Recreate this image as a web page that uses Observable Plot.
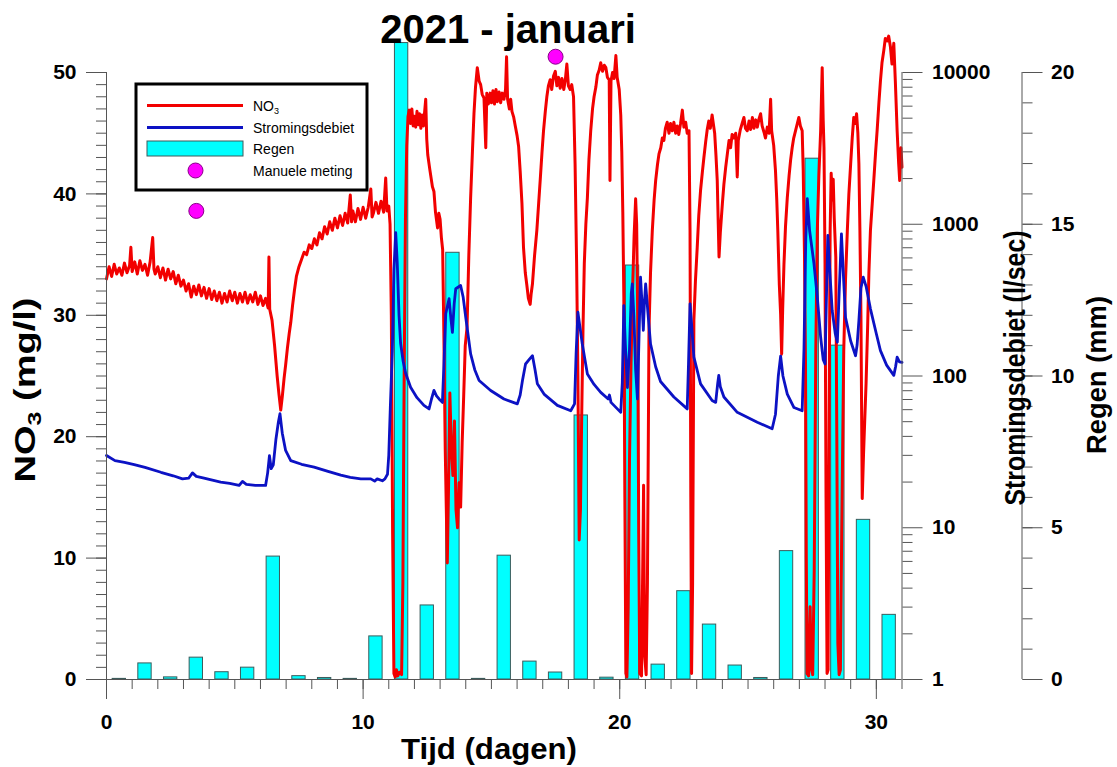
<!DOCTYPE html>
<html>
<head>
<meta charset="utf-8">
<script src="https://cdn.jsdelivr.net/npm/d3@7"></script>
<script src="https://cdn.jsdelivr.net/npm/@observablehq/plot@0.6"></script>
<style>
  html, body { margin: 0; padding: 0; background: #fff; overflow: hidden; }
  #chart svg { display: block; }
</style>
</head>
<body>
<div id="chart"></div>
<script>
// ---- Texts ----
const chartTitle = "2021 - januari";
const xTitle = "Tijd (dagen)";
const flowTitle = "Stromingsdebiet (l/sec)";
const rainTitle = "Regen (mm)";
const legendLabels = ["NO3", "Stromingsdebiet", "Regen", "Manuele meting"];

// ---- Tick values ----
const no3Ticks = [0, 10, 20, 30, 40, 50];
const dayTicks = [0, 10, 20, 30];
const flowTickValues = [1, 10, 100, 1000, 10000];
const flowTickLabels = ["1", "10", "100", "1000", "10000"];
const rainTickValues = [0, 5, 10, 15, 20];
const rainTickLabels = ["0", "5", "10", "15", "20"];

// ---- Daily rainfall (mm), bar centred on each day ----
const rainDay = [0.5, 1.5, 2.5, 3.5, 4.5, 5.5, 6.5, 7.5, 8.5, 9.5, 10.5, 11.5, 12.5, 13.5, 14.5, 15.5,
  16.5, 17.5, 18.5, 19.5, 20.5, 21.5, 22.5, 23.5, 24.5, 25.5, 26.5, 27.5, 28.5, 29.5, 30.5];
const rainMm = [0.02, 0.53, 0.07, 0.72, 0.24, 0.39, 4.05, 0.11, 0.05, 0.02, 1.42, 20.97, 2.44, 14.06, 0.02, 4.08,
  0.59, 0.23, 8.70, 0.06, 13.64, 0.49, 2.91, 1.81, 0.46, 0.05, 4.23, 17.16, 11.0, 5.26, 2.13];

// ---- Manual NO3 measurements [day, mg/l] ----
const manualSamples = [[3.5, 38.6], [17.5, 51.3]];

// ---- NO3 sensor record [day, mg/l] ----
const no3Series = [
  [0.0,33.0],[0.1,34.0],[0.2,33.2],[0.3,34.2],[0.4,33.4],[0.5,33.9],[0.6,33.3],[0.7,34.3],[0.8,33.5],[0.9,34.1],
  [0.95,35.6],[1.0,33.6],[1.1,34.4],[1.2,33.4],[1.3,34.5],[1.4,33.7],[1.5,34.2],[1.6,33.3],[1.7,34.4],[1.8,36.4],
  [1.85,33.8],[1.9,33.4],[2.0,34.0],[2.1,33.1],[2.2,33.9],[2.3,32.9],[2.4,33.8],[2.5,33.0],[2.6,33.6],[2.7,32.6],
  [2.8,33.3],[2.9,32.4],[3.0,32.9],[3.1,32.0],[3.2,32.6],[3.3,31.5],[3.4,32.4],[3.5,31.7],[3.6,32.5],[3.7,31.6],
  [3.8,32.3],[3.9,31.4],[4.0,32.2],[4.1,31.3],[4.2,32.0],[4.3,31.2],[4.4,31.9],[4.5,31.0],[4.6,31.8],[4.7,31.1],
  [4.8,32.0],[4.9,31.2],[5.0,31.9],[5.1,31.0],[5.2,31.8],[5.3,31.1],[5.4,31.9],[5.5,31.0],[5.6,31.7],[5.7,31.1],
  [5.8,31.9],[5.9,30.9],[6.0,31.6],[6.1,30.8],[6.2,31.4],[6.3,30.6],[6.33,34.8],[6.36,30.5],[6.45,29.6],[6.55,27.5],
  [6.65,25.0],[6.72,23.5],[6.79,22.2],[6.85,23.3],[6.92,24.8],[6.98,25.9],[7.05,27.3],[7.12,28.5],[7.18,29.4],[7.25,30.8],
  [7.32,32.0],[7.4,33.2],[7.5,34.0],[7.6,34.6],[7.7,35.2],[7.8,35.0],[7.9,35.8],[8.0,35.5],[8.1,36.3],[8.2,35.8],
  [8.3,36.8],[8.4,36.3],[8.5,37.3],[8.6,36.7],[8.7,37.7],[8.8,37.0],[8.9,38.0],[9.0,37.2],[9.1,38.2],[9.2,37.4],
  [9.3,38.4],[9.4,37.6],[9.5,39.9],[9.55,37.7],[9.6,38.6],[9.7,37.7],[9.8,38.8],[9.9,37.9],[10.0,38.9],[10.1,38.0],
  [10.2,38.9],[10.3,40.4],[10.35,38.1],[10.4,38.4],[10.5,39.3],[10.6,38.4],[10.7,39.4],[10.8,38.5],[10.88,41.3],[10.93,38.6],
  [11.0,39.0],[11.05,37.5],[11.1,30.0],[11.15,12.0],[11.2,0.5],[11.25,0.2],[11.3,0.8],[11.35,0.3],[11.42,0.6],[11.5,0.4],
  [11.55,8.0],[11.6,25.0],[11.65,38.0],[11.7,44.0],[11.75,46.4],[11.8,46.9],[11.85,45.8],[11.9,47.0],[11.95,45.6],[12.0,46.4],
  [12.05,45.5],[12.1,46.8],[12.15,45.7],[12.2,46.6],[12.25,45.4],[12.3,46.5],[12.35,45.6],[12.44,47.8],[12.48,44.5],[12.52,43.2],
  [12.6,42.0],[12.7,40.6],[12.76,40.2],[12.82,38.5],[12.9,37.2],[12.95,38.4],[13.0,37.9],[13.05,36.4],[13.1,35.4],[13.15,28.0],
  [13.2,19.0],[13.28,9.6],[13.33,16.0],[13.38,23.6],[13.44,19.0],[13.5,16.8],[13.56,21.3],[13.62,14.0],[13.68,12.5],[13.74,16.2],
  [13.8,14.2],[13.86,19.5],[13.92,23.4],[13.98,27.5],[14.05,29.0],[14.12,35.0],[14.19,39.7],[14.26,43.5],[14.32,46.6],[14.38,48.8],
  [14.45,50.4],[14.52,49.3],[14.58,49.0],[14.64,48.2],[14.71,47.9],[14.78,43.8],[14.82,48.3],[14.88,47.4],[14.95,48.3],[15.0,47.5],
  [15.06,48.5],[15.12,47.4],[15.18,48.6],[15.23,47.6],[15.3,48.4],[15.36,47.5],[15.42,48.3],[15.49,47.8],[15.55,48.6],[15.59,51.3],
  [15.63,47.8],[15.7,47.0],[15.75,47.8],[15.8,46.8],[15.87,46.3],[15.93,45.6],[16.0,44.8],[16.06,43.9],[16.12,41.9],[16.19,39.2],
  [16.25,35.6],[16.32,33.5],[16.38,32.5],[16.44,31.4],[16.51,30.9],[16.55,31.8],[16.6,32.6],[16.68,34.9],[16.77,37.0],[16.84,39.2],
  [16.9,41.1],[16.97,43.4],[17.03,45.2],[17.1,46.8],[17.16,48.0],[17.22,48.9],[17.29,49.4],[17.35,48.6],[17.42,49.7],[17.49,50.1],
  [17.55,48.9],[17.62,49.6],[17.68,48.7],[17.75,49.5],[17.82,48.6],[17.88,49.4],[17.94,50.7],[18.0,48.9],[18.07,48.6],[18.13,49.0],
  [18.2,48.0],[18.26,42.5],[18.32,34.3],[18.37,25.0],[18.42,11.5],[18.47,14.0],[18.52,22.0],[18.57,29.0],[18.62,34.3],[18.68,37.5],
  [18.74,39.7],[18.8,42.8],[18.87,45.2],[18.94,47.0],[19.0,48.0],[19.07,48.8],[19.13,49.8],[19.2,50.2],[19.26,50.8],[19.33,50.1],
  [19.4,50.6],[19.46,50.4],[19.52,49.6],[19.59,49.4],[19.62,41.1],[19.66,49.3],[19.72,50.0],[19.78,49.5],[19.85,51.4],[19.9,49.6],
  [19.98,48.6],[20.04,46.5],[20.08,43.5],[20.12,38.5],[20.16,31.5],[20.2,15.0],[20.24,0.5],[20.28,0.2],[20.33,6.0],[20.38,18.0],
  [20.44,26.0],[20.5,32.0],[20.56,36.5],[20.62,39.6],[20.66,37.5],[20.7,30.0],[20.74,12.0],[20.78,0.5],[20.85,0.3],[20.9,10.0],
  [20.93,16.0],[20.97,2.0],[21.03,0.4],[21.08,8.0],[21.14,28.7],[21.2,33.5],[21.27,37.0],[21.34,39.5],[21.4,41.1],[21.47,42.4],
  [21.53,43.3],[21.6,43.8],[21.66,44.6],[21.72,44.4],[21.78,45.4],[21.85,45.9],[21.92,45.0],[21.98,45.8],[22.05,45.2],[22.11,45.9],
  [22.18,45.0],[22.24,45.6],[22.3,44.9],[22.37,45.8],[22.44,46.9],[22.5,45.5],[22.57,45.9],[22.63,45.0],[22.7,45.2],[22.74,37.0],
  [22.77,15.0],[22.8,0.5],[22.84,8.0],[22.89,29.6],[22.95,32.8],[23.02,35.6],[23.08,38.2],[23.15,40.3],[23.22,41.8],[23.28,43.0],
  [23.35,44.3],[23.41,45.3],[23.47,46.0],[23.53,45.4],[23.6,46.5],[23.66,45.6],[23.7,45.0],[23.75,43.2],[23.8,41.1],[23.84,37.5],
  [23.87,34.8],[23.92,36.8],[24.0,39.2],[24.06,40.8],[24.13,42.2],[24.2,43.4],[24.26,44.4],[24.32,43.8],[24.38,44.9],[24.45,44.6],
  [24.52,45.0],[24.58,41.4],[24.62,44.4],[24.7,45.3],[24.77,45.8],[24.84,46.3],[24.9,45.4],[24.97,45.2],[25.04,46.0],[25.1,45.3],
  [25.17,46.3],[25.23,45.4],[25.3,46.1],[25.36,45.5],[25.43,46.2],[25.49,46.6],[25.55,45.6],[25.62,45.1],[25.68,44.6],[25.75,45.5],
  [25.82,45.0],[25.88,47.8],[25.92,45.2],[26.0,44.0],[26.07,41.9],[26.12,39.5],[26.16,37.0],[26.22,32.5],[26.27,30.1],[26.31,26.8],
  [26.35,30.5],[26.4,34.2],[26.46,37.3],[26.53,39.7],[26.6,41.5],[26.66,42.8],[26.72,43.8],[26.78,44.6],[26.85,45.2],[26.92,45.8],
  [26.98,46.3],[27.04,45.6],[27.11,45.2],[27.15,42.0],[27.2,35.0],[27.24,26.0],[27.27,10.0],[27.3,0.5],[27.36,0.3],[27.42,6.0],
  [27.46,1.0],[27.52,0.4],[27.58,9.0],[27.64,27.0],[27.7,37.0],[27.76,41.5],[27.83,45.2],[27.89,50.4],[27.93,46.0],[27.96,43.8],
  [28.0,34.2],[28.04,15.0],[28.08,0.5],[28.12,0.8],[28.16,22.0],[28.2,37.0],[28.24,41.7],[28.28,39.5],[28.32,41.2],[28.36,38.0],
  [28.42,34.8],[28.46,20.0],[28.5,3.0],[28.55,0.4],[28.6,0.8],[28.65,12.0],[28.73,27.1],[28.8,33.0],[28.87,37.0],[28.93,40.0],
  [29.0,42.5],[29.06,44.6],[29.12,46.3],[29.18,45.8],[29.23,46.6],[29.28,45.0],[29.32,42.5],[29.36,37.0],[29.4,30.0],[29.45,14.9],
  [29.5,18.5],[29.55,21.5],[29.6,24.4],[29.66,29.0],[29.71,33.5],[29.77,37.0],[29.84,39.2],[29.9,41.1],[29.97,43.4],[30.03,45.2],
  [30.1,47.5],[30.16,49.3],[30.22,50.8],[30.29,51.8],[30.35,52.8],[30.42,52.6],[30.48,53.0],[30.55,52.1],[30.61,50.7],[30.68,52.4],
  [30.74,49.3],[30.81,45.2],[30.87,42.5],[30.91,41.1],[30.96,43.8],[31.0,42.2]
];

// ---- Discharge record [day, l/sec] ----
const flowSeries = [
  [0.0,29.9],[0.33,27.7],[0.7,27.0],[1.08,26.1],[1.5,25.0],[2.12,23.2],[2.6,22.0],[2.96,21.0],[3.2,21.2],[3.35,23.0],
  [3.5,21.8],[3.8,21.2],[4.45,20.0],[4.8,19.6],[5.17,19.0],[5.3,20.2],[5.45,19.3],[5.8,19.0],[6.2,19.0],[6.28,23.0],
  [6.35,29.9],[6.42,24.5],[6.5,26.0],[6.6,38.0],[6.7,50.0],[6.76,56.4],[6.85,42.0],[6.98,32.3],[7.18,27.7],[7.6,26.2],
  [8.09,25.1],[8.6,23.6],[9.13,22.2],[9.5,21.5],[9.91,21.0],[10.3,21.0],[10.45,20.3],[10.55,21.0],[10.75,20.4],[10.85,21.0],
  [10.95,22.5],[11.0,30],[11.06,62],[11.14,147],[11.2,500],[11.27,880],[11.33,560],[11.4,250],[11.46,165],[11.56,125],
  [11.66,104],[11.85,84.4],[12.1,72],[12.37,64],[12.57,60.7],[12.66,70],[12.76,80.3],[12.86,74],[12.96,70.6],[13.09,67],
  [13.15,120],[13.22,257],[13.35,323],[13.42,240],[13.48,194],[13.55,300],[13.61,376],[13.8,395],[13.9,330],[14.0,243],
  [14.19,140],[14.35,110],[14.52,93.4],[14.97,80.3],[15.49,70.6],[16.01,65.5],[16.12,75],[16.21,93.4],[16.33,120],[16.5,130],
  [16.6,136],[16.7,110],[16.79,88.8],[17.05,76],[17.57,64],[18.09,59],[18.24,65.5],[18.3,140],[18.37,263],[18.45,210],
  [18.54,163],[18.74,103],[19.0,88],[19.26,78],[19.55,70.6],[19.6,75],[19.66,67],[20.04,57.6],[20.1,90],[20.16,291],
  [20.22,160],[20.3,84],[20.38,150],[20.45,350],[20.49,405],[20.55,250],[20.62,110],[20.69,70.6],[20.74,150],[20.81,448],
  [20.87,300],[20.92,200],[20.96,300],[21.01,405],[21.1,260],[21.2,163],[21.4,115],[21.59,92],[22.11,72.7],[22.63,60.7],
  [22.68,120],[22.74,299],[22.8,220],[22.89,133],[23.15,88.8],[23.6,69],[23.74,67],[23.82,90],[23.86,101],[23.92,85],
  [24.06,72.7],[24.58,57.6],[25.36,49.6],[25.94,44.9],[26.07,56],[26.18,100],[26.27,135],[26.36,100],[26.53,76],[26.79,62],
  [27.11,59],[27.18,150],[27.25,800],[27.31,1472],[27.4,906],[27.57,549],[27.7,330],[27.83,180],[27.93,128],[28.0,120],
  [28.05,300],[28.11,844],[28.2,450],[28.28,270],[28.4,190],[28.48,167],[28.55,350],[28.64,865],[28.72,450],[28.8,243],
  [29.0,170],[29.19,136],[29.25,160],[29.32,232],[29.4,380],[29.49,448],[29.6,390],[29.77,277],[30.0,190],[30.16,147],
  [30.4,118],[30.68,101],[30.75,115],[30.81,133],[30.9,124],[31.0,123]
];

// ---- Colours ----
const red = "#f20000";
const blue = "#0c12c4";
const cyan = "#00ffff";
const barEdge = "#3c5c5c";
const magenta = "#ff00ff";
const axisGray = "#555";

// Secondary scales share the NO3 y scale (0–50):
// discharge is log10 over four decades, rain is 0–20 mm.
const flowToY = q => Math.log10(q) * 50 / 4;
const rainToY = mm => mm * 50 / 20;

const flowMinorTicks = [];
for (let k = 0; k < 4; k++) for (let m = 2; m <= 9; m++) flowMinorTicks.push(flowToY(m * 10 ** k));
const flowMajorPos = flowTickValues.map(flowToY);
const rainMajorPos = rainTickValues.map(rainToY);
const rainMinorPos = d3.range(0, 21).map(rainToY);

const rainRows = rainDay.map((d, i) => ({day: d, mm: rainMm[i]}));
const rightGap = 120; // distance between discharge axis and rain axis

const chart = Plot.plot({
  width: 1117,
  height: 767,
  marginTop: 72,
  marginBottom: 88,
  marginLeft: 106,
  marginRight: 215.5,
  x: {domain: [0, 31]},
  y: {domain: [0, 50]},
  style: {
    fontFamily: "'Liberation Sans', Arial, sans-serif",
    fontSize: "21px",
    fontWeight: "bold",
    background: "white",
    color: "black",
    overflow: "visible"
  },
  marks: [
    // rain bars
    Plot.rectY(rainRows, {
      x1: d => d.day - 0.26, x2: d => d.day + 0.26,
      y1: 0, y2: d => rainToY(d.mm),
      fill: cyan, stroke: barEdge, strokeWidth: 1
    }),
    // NO3
    Plot.line(no3Series, {x: d => d[0], y: d => d[1], stroke: red, strokeWidth: 3, strokeLinejoin: "round"}),
    // discharge
    Plot.line(flowSeries, {x: d => d[0], y: d => flowToY(d[1]), stroke: blue, strokeWidth: 2.8, strokeLinejoin: "round"}),
    // manual samples
    Plot.dot(manualSamples, {x: d => d[0], y: d => d[1], r: 7.5, fill: magenta, stroke: "#880088", strokeWidth: 1}),

    // axis lines
    Plot.ruleX([0], {y1: 0, y2: 50, stroke: axisGray}),
    Plot.ruleY([0], {x1: 0, x2: 31, stroke: axisGray}),
    Plot.ruleX([31], {y1: 0, y2: 50, stroke: axisGray}),
    Plot.ruleX([31], {y1: 0, y2: 50, stroke: axisGray, dx: rightGap}),

    // NO3 axis
    Plot.axisY(d3.range(0, 51, 1), {anchor: "left", tickSize: 10, fill: "none", stroke: axisGray, label: null}),
    Plot.axisY(no3Ticks, {anchor: "left", tickSize: 20, tickPadding: 10, stroke: axisGray, fill: "black", label: null}),

    // time axis
    Plot.axisX(d3.range(0, 32, 1), {anchor: "bottom", tickSize: 10, fill: "none", stroke: axisGray, label: null}),
    Plot.axisX(dayTicks, {anchor: "bottom", tickSize: 20, tickPadding: 15, stroke: axisGray, fill: "black", label: null}),

    // discharge axis (log)
    Plot.axisY(flowMinorTicks, {anchor: "right", tickSize: 10, fill: "none", stroke: axisGray, label: null}),
    Plot.axisY(flowMajorPos, {anchor: "right", tickSize: 20, tickPadding: 10, stroke: axisGray, fill: "black", label: null,
      tickFormat: p => flowTickLabels[flowMajorPos.indexOf(p)]}),

    // rain axis
    Plot.axisY(rainMinorPos, {anchor: "right", dx: rightGap, tickSize: 10, fill: "none", stroke: axisGray, label: null}),
    Plot.axisY(rainMajorPos, {anchor: "right", dx: rightGap, tickSize: 20, tickPadding: 9, stroke: axisGray, fill: "black", label: null,
      tickFormat: p => rainTickLabels[rainMajorPos.indexOf(p)]})
  ]
});

document.getElementById("chart").append(chart);

// ---- Titles ----
const svg = d3.select(chart);

svg.append("text")
  .attr("x", 508).attr("y", 43)
  .attr("text-anchor", "middle")
  .attr("font-size", 40).attr("font-weight", "bold")
  .text(chartTitle);

svg.append("text")
  .attr("x", 489).attr("y", 759)
  .attr("text-anchor", "middle")
  .attr("font-size", 30).attr("font-weight", "bold")
  .attr("textLength", 176).attr("lengthAdjust", "spacingAndGlyphs")
  .text(xTitle);

const no3Title = svg.append("text")
  .attr("transform", "translate(35,390) rotate(-90)")
  .attr("text-anchor", "middle")
  .attr("font-size", 29).attr("font-weight", "bold")
  .attr("textLength", 185).attr("lengthAdjust", "spacingAndGlyphs");
no3Title.append("tspan").text("NO");
no3Title.append("tspan").attr("font-size", 19).attr("dy", 6).text("3");
no3Title.append("tspan").attr("dy", -6).text(" (mg/l)");

svg.append("text")
  .attr("transform", "translate(1025,368) rotate(-90)")
  .attr("text-anchor", "middle")
  .attr("font-size", 29).attr("font-weight", "bold")
  .attr("textLength", 275).attr("lengthAdjust", "spacingAndGlyphs")
  .text(flowTitle);

svg.append("text")
  .attr("transform", "translate(1106,375) rotate(-90)")
  .attr("text-anchor", "middle")
  .attr("font-size", 28).attr("font-weight", "bold")
  .attr("textLength", 158).attr("lengthAdjust", "spacingAndGlyphs")
  .text(rainTitle);

// ---- Legend ----
const lg = svg.append("g")
  .attr("font-weight", "normal")
  .attr("font-size", 14)
  .attr("text-anchor", "start");
lg.append("rect")
  .attr("x", 136).attr("y", 84).attr("width", 231).attr("height", 106)
  .attr("fill", "white").attr("stroke", "black").attr("stroke-width", 3);

const rowY = [105.5, 127.5, 148.5, 170.5];
lg.append("line").attr("x1", 147).attr("x2", 243).attr("y1", rowY[0]).attr("y2", rowY[0])
  .attr("stroke", red).attr("stroke-width", 3);
lg.append("line").attr("x1", 147).attr("x2", 243).attr("y1", rowY[1]).attr("y2", rowY[1])
  .attr("stroke", blue).attr("stroke-width", 2.8);
lg.append("rect").attr("x", 147).attr("y", rowY[2] - 7.5).attr("width", 96).attr("height", 15)
  .attr("fill", cyan).attr("stroke", barEdge).attr("stroke-width", 1);
lg.append("circle").attr("cx", 195.5).attr("cy", rowY[3]).attr("r", 7.5)
  .attr("fill", magenta).attr("stroke", "#880088").attr("stroke-width", 1);

legendLabels.forEach((label, i) => {
  const t = lg.append("text").attr("x", 253).attr("y", rowY[i] + 5);
  if (label === "NO3") {
    t.append("tspan").text("NO");
    t.append("tspan").attr("font-size", 9).attr("dy", 3).text("3");
  } else {
    t.text(label);
  }
});
</script>
</body>
</html>
